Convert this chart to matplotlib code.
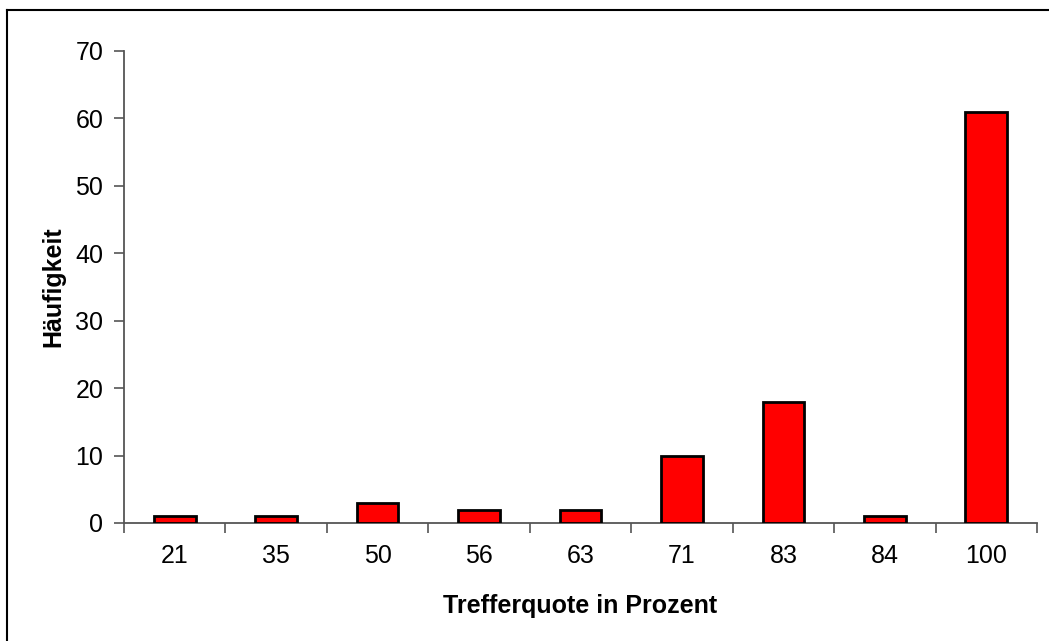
import matplotlib
matplotlib.use("Agg")
import matplotlib.pyplot as plt
from matplotlib.lines import Line2D
import numpy as np

# Trefferquote (in %) und Häufigkeit
quoten = ["21", "35", "50", "56", "63", "71", "83", "84", "100"]
haeufigkeit = [1, 1, 3, 2, 2, 10, 18, 1, 61]

plt.rcParams["font.family"] = ["Liberation Sans", "DejaVu Sans"]

fig = plt.figure(figsize=(10.49, 6.41), dpi=100)
ax = fig.add_axes([124 / 1049, 1 - 523 / 641, (1037 - 124) / 1049, (523 - 51) / 641])

x = np.arange(len(quoten))
ax.bar(x, haeufigkeit, width=0.41, color="#ff0000", edgecolor="black", linewidth=2, zorder=3)

ax.set_xlim(-0.5, len(quoten) - 0.5)
ax.set_ylim(0, 70)
ax.set_yticks(range(0, 71, 10))
ax.set_xticks(x)
ax.set_xticklabels(quoten)
ax.set_xticks(np.arange(-0.5, len(quoten)), minor=True)

for side in ["top", "right"]:
    ax.spines[side].set_visible(False)
for side in ["left", "bottom"]:
    ax.spines[side].set_color("#555555")
    ax.spines[side].set_linewidth(1.3)

ax.tick_params(axis="y", direction="out", length=7, width=1.2, color="#555555", labelsize=18, pad=8)
ax.tick_params(axis="x", which="major", length=0, labelsize=18, pad=15)
ax.tick_params(axis="x", which="minor", direction="out", length=7, width=1.2, color="#555555")

ax.set_xlabel("Trefferquote in Prozent", fontsize=18, fontweight="bold", labelpad=19)
ax.set_ylabel("Häufigkeit", fontsize=18, fontweight="bold", labelpad=7)

# Rahmen um das Diagramm (nur oben und links sichtbar)
fig.add_artist(Line2D([7 / 1049, 1.0], [1 - 10 / 641, 1 - 10 / 641], transform=fig.transFigure, color="black", linewidth=1.5))
fig.add_artist(Line2D([7 / 1049, 7 / 1049], [0.0, 1 - 10 / 641], transform=fig.transFigure, color="black", linewidth=1.5))

fig.savefig("out.png", dpi=100)
